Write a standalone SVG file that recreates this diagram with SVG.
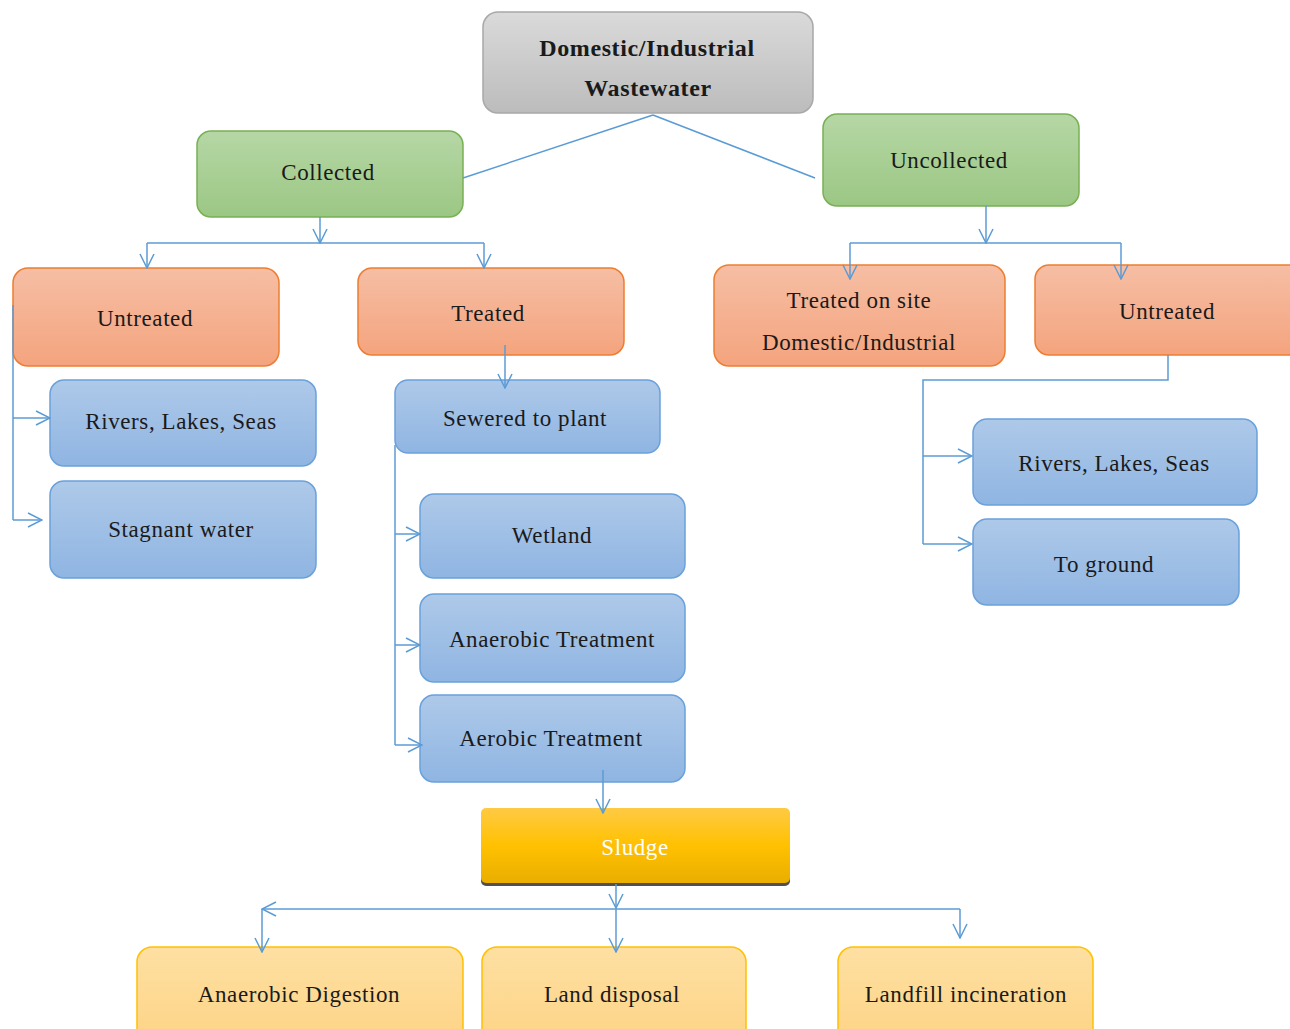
<svg xmlns="http://www.w3.org/2000/svg" width="1290" height="1029" viewBox="0 0 1290 1029">
<defs>
<linearGradient id="gGray" x1="0" y1="0" x2="0" y2="1"><stop offset="0" stop-color="#dadada"/><stop offset="1" stop-color="#bcbcbc"/></linearGradient>
<linearGradient id="gGreen" x1="0" y1="0" x2="0" y2="1"><stop offset="0" stop-color="#b6d7a5"/><stop offset="1" stop-color="#9bc784"/></linearGradient>
<linearGradient id="gOrange" x1="0" y1="0" x2="0" y2="1"><stop offset="0" stop-color="#f6bea4"/><stop offset="1" stop-color="#f4a47e"/></linearGradient>
<linearGradient id="gBlue" x1="0" y1="0" x2="0" y2="1"><stop offset="0" stop-color="#aec9e9"/><stop offset="1" stop-color="#8fb5e2"/></linearGradient>
<linearGradient id="gYellow" x1="0" y1="0" x2="0" y2="1"><stop offset="0" stop-color="#fee0a2"/><stop offset="1" stop-color="#fdd385"/></linearGradient>
<linearGradient id="gSludge" x1="0" y1="0" x2="0" y2="1"><stop offset="0" stop-color="#ffca45"/><stop offset="0.5" stop-color="#ffc100"/><stop offset="1" stop-color="#e9ae00"/></linearGradient>
<marker id="arr" viewBox="0 0 16 16" refX="15" refY="8" markerWidth="16" markerHeight="16" markerUnits="userSpaceOnUse" orient="auto">
<path d="M1,1 L15,8 L1,15" fill="none" stroke="#5b9bd5" stroke-width="1.5"/>
</marker>
</defs>
<style>
.gray{fill:url(#gGray);stroke:#a8a8a8;stroke-width:1.5}
.green{fill:url(#gGreen);stroke:#78b054;stroke-width:1.5}
.orange{fill:url(#gOrange);stroke:#ed7d31;stroke-width:1.5}
.blue{fill:url(#gBlue);stroke:#6aa1da;stroke-width:1.5}
.yellow{fill:url(#gYellow);stroke:#ffc000;stroke-width:1.5}
.sludge{fill:url(#gSludge);stroke:none}
text{font-family:"Liberation Serif","Times New Roman",serif;font-size:23px;fill:#1a1a1a;text-anchor:middle;letter-spacing:0.6px}
.b{font-weight:bold;font-size:24px}
.w{fill:#ffffff}
.c{fill:none;stroke:#5b9bd5;stroke-width:1.5}
.ca{fill:none;stroke:#5b9bd5;stroke-width:1.5;marker-end:url(#arr)}
</style>
<rect width="1290" height="1029" fill="#ffffff"/>

<g id="n-wastewater"><rect class="gray" x="483" y="12" width="330" height="101" rx="15"/><text class="b" x="647" y="56">Domestic/Industrial</text><text class="b" x="648" y="96">Wastewater</text></g>
<g id="n-collected"><rect class="green" x="197" y="131" width="266" height="86" rx="14"/><text x="328" y="180">Collected</text></g>
<g id="n-uncollected"><rect class="green" x="823" y="114" width="256" height="92" rx="14"/><text x="949" y="168">Uncollected</text></g>
<g id="n-untreated-l"><rect class="orange" x="13" y="268" width="266" height="98" rx="15"/><text x="145" y="326">Untreated</text></g>
<g id="n-treated"><rect class="orange" x="358" y="268" width="266" height="87" rx="14"/><text x="488" y="321">Treated</text></g>
<g id="n-onsite"><rect class="orange" x="714" y="265" width="291" height="101" rx="15"/><text x="859" y="308">Treated on site</text><text x="859" y="350">Domestic/Industrial</text></g>
<g id="n-untreated-r"><rect class="orange" x="1035" y="265" width="270" height="90" rx="14"/><text x="1167" y="319">Untreated</text></g>
<g id="n-rivers-l"><rect class="blue" x="50" y="380" width="266" height="86" rx="14"/><text x="181" y="429">Rivers, Lakes, Seas</text></g>
<g id="n-stagnant"><rect class="blue" x="50" y="481" width="266" height="97" rx="14"/><text x="181" y="537">Stagnant water</text></g>
<g id="n-sewered"><rect class="blue" x="395" y="380" width="265" height="73" rx="13"/><text x="525" y="426">Sewered to plant</text></g>
<g id="n-wetland"><rect class="blue" x="420" y="494" width="265" height="84" rx="14"/><text x="552" y="543">Wetland</text></g>
<g id="n-anaerobic-t"><rect class="blue" x="420" y="594" width="265" height="88" rx="14"/><text x="552" y="647">Anaerobic Treatment</text></g>
<g id="n-aerobic-t"><rect class="blue" x="420" y="695" width="265" height="87" rx="14"/><text x="551" y="746">Aerobic Treatment</text></g>
<g id="n-rivers-r"><rect class="blue" x="973" y="419" width="284" height="86" rx="14"/><text x="1114" y="471">Rivers, Lakes, Seas</text></g>
<g id="n-ground"><rect class="blue" x="973" y="519" width="266" height="86" rx="14"/><text x="1104" y="572">To ground</text></g>
<g id="n-sludge"><rect x="481" y="811" width="309" height="75" rx="5" fill="#505050"/><rect class="sludge" x="481" y="808" width="309" height="75" rx="5"/><text class="w" x="635" y="855">Sludge</text></g>
<g id="n-digestion"><rect class="yellow" x="137" y="947" width="326" height="100" rx="15"/><text x="299" y="1002">Anaerobic Digestion</text></g>
<g id="n-land"><rect class="yellow" x="482" y="947" width="264" height="100" rx="15"/><text x="612" y="1002">Land disposal</text></g>
<g id="n-landfill"><rect class="yellow" x="838" y="947" width="255" height="100" rx="15"/><text x="966" y="1002">Landfill incineration</text></g>

<g id="connectors">
<path class="c" d="M653,115 L463,178"/>
<path class="c" d="M653,115 L815,178"/>
<path class="ca" d="M320,217 V243"/>
<path class="c" d="M147,243 H484"/>
<path class="ca" d="M147,243 V268"/>
<path class="ca" d="M484,243 V268"/>
<path class="ca" d="M986,206 V243"/>
<path class="c" d="M850,243 H1121"/>
<path class="ca" d="M850,243 V279"/>
<path class="ca" d="M1121,243 V279"/>
<path class="c" d="M13,305 V520"/>
<path class="ca" d="M13,418 H50"/>
<path class="ca" d="M13,520 H42"/>
<path class="ca" d="M505,345 V388"/>
<path class="c" d="M395,445 V745"/>
<path class="ca" d="M395,534 H420"/>
<path class="ca" d="M395,645 H420"/>
<path class="ca" d="M395,745 H422"/>
<path class="ca" d="M603,770 V813"/>
<path class="ca" d="M616,884 V908"/>
<path class="ca" d="M960,909 H262"/>
<path class="ca" d="M262,909 V952"/>
<path class="ca" d="M616,909 V952"/>
<path class="ca" d="M960,909 V938"/>
<path class="c" d="M1168,355 V380 H923 V544"/>
<path class="ca" d="M923,456 H972"/>
<path class="ca" d="M923,544 H972"/>
</g>
</svg>
